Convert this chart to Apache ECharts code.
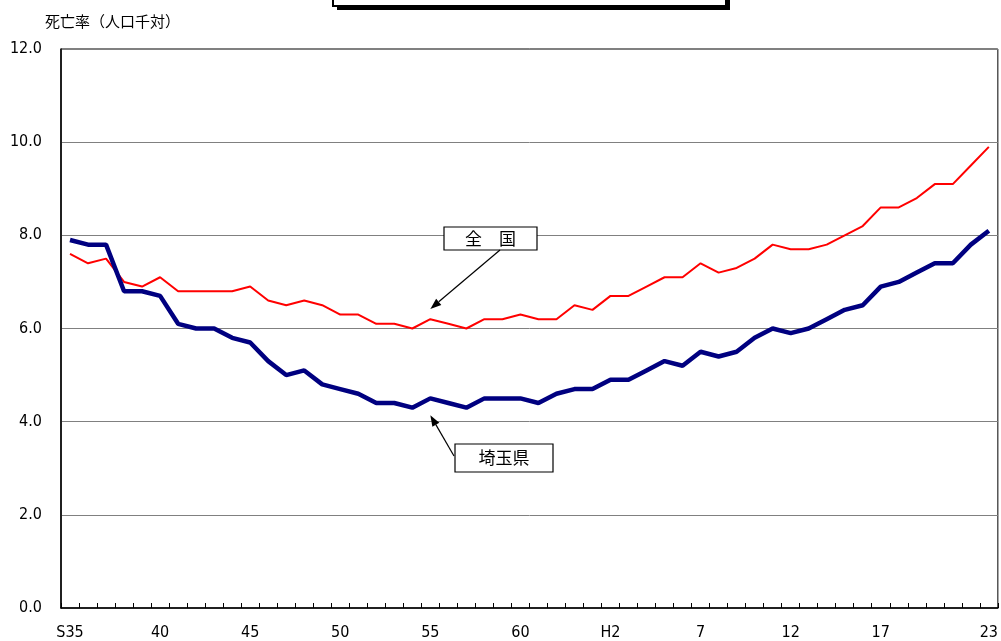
<!DOCTYPE html>
<html>
<head>
<meta charset="utf-8">
<script src="https://cdn.jsdelivr.net/npm/echarts@6/dist/echarts.min.js"></script>
<style>
    html, body { margin: 0; padding: 0; background: #fff; }
    #chart { width: 1001px; height: 641px; }
</style>
</head>
<body>
<div id="chart"></div>
<script>
// 年（S35=1960 ～ H23=2011）
var years = ['S35', '36', '37', '38', '39', '40', '41', '42', '43', '44',
    '45', '46', '47', '48', '49', '50', '51', '52', '53', '54',
    '55', '56', '57', '58', '59', '60', '61', '62', '63', 'H1',
    'H2', '3', '4', '5', '6', '7', '8', '9', '10', '11',
    '12', '13', '14', '15', '16', '17', '18', '19', '20', '21',
    '22', '23'];

// 全国
var zenkoku = [7.6, 7.4, 7.5, 7.0, 6.9, 7.1, 6.8, 6.8, 6.8, 6.8,
    6.9, 6.6, 6.5, 6.6, 6.5, 6.3, 6.3, 6.1, 6.1, 6.0,
    6.2, 6.1, 6.0, 6.2, 6.2, 6.3, 6.2, 6.2, 6.5, 6.4,
    6.7, 6.7, 6.9, 7.1, 7.1, 7.4, 7.2, 7.3, 7.5, 7.8,
    7.7, 7.7, 7.8, 8.0, 8.2, 8.6, 8.6, 8.8, 9.1, 9.1,
    9.5, 9.9];

// 埼玉県
var saitama = [7.9, 7.8, 7.8, 6.8, 6.8, 6.7, 6.1, 6.0, 6.0, 5.8,
    5.7, 5.3, 5.0, 5.1, 4.8, 4.7, 4.6, 4.4, 4.4, 4.3,
    4.5, 4.4, 4.3, 4.5, 4.5, 4.5, 4.4, 4.6, 4.7, 4.7,
    4.9, 4.9, 5.1, 5.3, 5.2, 5.5, 5.4, 5.5, 5.8, 6.0,
    5.9, 6.0, 6.2, 6.4, 6.5, 6.9, 7.0, 7.2, 7.4, 7.4,
    7.8, 8.1];

// 表示する目盛ラベル（5年ごと＋最終年）
var labelIdx = [0, 5, 10, 15, 20, 25, 30, 35, 40, 45, 51];

var numFont = "'Liberation Sans Narrow', 'DejaVu Sans Condensed', sans-serif";
var jpFont = "'Noto Sans CJK JP', sans-serif";

var chart = echarts.init(document.getElementById('chart'), null, {renderer: 'canvas'});

var option = {
    animation: false,
    backgroundColor: '#fff',
    grid: {
        left: 61,
        right: 3,
        top: 49,
        bottom: 33,
        show: true,
        borderColor: '#000',
        borderWidth: 1
    },
    xAxis: {
        type: 'category',
        data: years,
        boundaryGap: true,
        axisLine: {lineStyle: {color: '#000', width: 1.5}},
        axisTick: {
            show: true,
            inside: true,
            length: 5,
            interval: 0,
            lineStyle: {color: '#000'}
        },
        axisLabel: {
            interval: function (idx) {
                return labelIdx.indexOf(idx) >= 0;
            },
            color: '#000',
            fontFamily: numFont,
            fontSize: 16,
            margin: 17
        }
    },
    yAxis: {
        type: 'value',
        min: 0,
        max: 12,
        interval: 2,
        axisLine: {show: true, lineStyle: {color: '#000', width: 1.5}},
        axisTick: {show: false},
        splitLine: {lineStyle: {color: '#808080', width: 1}},
        axisLabel: {
            formatter: function (v) { return v.toFixed(1); },
            color: '#000',
            fontFamily: numFont,
            fontSize: 16,
            margin: 19
        }
    },
    series: [
        {
            name: '全国',
            type: 'line',
            data: zenkoku,
            showSymbol: false,
            lineStyle: {color: '#ff0000', width: 2},
            z: 3
        },
        {
            name: '埼玉県',
            type: 'line',
            data: saitama,
            showSymbol: false,
            lineStyle: {color: '#000080', width: 4.5},
            z: 4
        }
    ]
};
chart.setOption(option);

// 吹き出し（ラベル枠＋矢印）
function arrow(from, to) {
    var dx = to[0] - from[0], dy = to[1] - from[1];
    var len = Math.sqrt(dx * dx + dy * dy);
    var ux = dx / len, uy = dy / len;
    var hl = 11, hw = 4;
    var bx = to[0] - ux * hl, by = to[1] - uy * hl;
    return [
        {
            type: 'line',
            shape: {x1: from[0], y1: from[1], x2: bx, y2: by},
            style: {stroke: '#000', lineWidth: 1.2},
            z: 20
        },
        {
            type: 'polygon',
            shape: {points: [to, [bx - uy * hw, by + ux * hw], [bx + uy * hw, by - ux * hw]]},
            style: {fill: '#000'},
            z: 20
        }
    ];
}

function labelBox(x, y, w, h, text) {
    return [
        {
            type: 'rect',
            shape: {x: x, y: y, width: w, height: h},
            style: {fill: '#fff', stroke: '#000', lineWidth: 1.2},
            z: 20
        },
        {
            type: 'text',
            x: x + w / 2,
            y: y + h / 2,
            style: {
                text: text,
                fill: '#000',
                font: '17px ' + jpFont,
                align: 'center',
                verticalAlign: 'middle'
            },
            z: 21
        }
    ];
}

var tipZen = chart.convertToPixel({seriesIndex: 0}, [20.2, 6.42]);
var tipSai = chart.convertToPixel({seriesIndex: 1}, [20.2, 4.14]);

var graphics = [
    // 上部のタイトル枠（切れている）
    {
        type: 'rect',
        shape: {x: 337, y: -20, width: 393, height: 30},
        style: {fill: '#000'},
        z: 10
    },
    {
        type: 'rect',
        shape: {x: 333, y: -24, width: 393, height: 30},
        style: {fill: '#fff', stroke: '#000', lineWidth: 2},
        z: 11
    },
    {
        type: 'text',
        x: 45,
        y: 21,
        style: {
            text: '死亡率（人口千対）',
            fill: '#000',
            font: '15px ' + jpFont,
            verticalAlign: 'middle'
        },
        z: 10
    }
];
graphics = graphics
    .concat(labelBox(444, 227, 93, 23, '全　国'))
    .concat(arrow([500, 250], tipZen))
    .concat(labelBox(455, 444, 98, 28, '埼玉県'))
    .concat(arrow([454, 456], tipSai));

chart.setOption({graphic: graphics});
</script>
</body>
</html>
